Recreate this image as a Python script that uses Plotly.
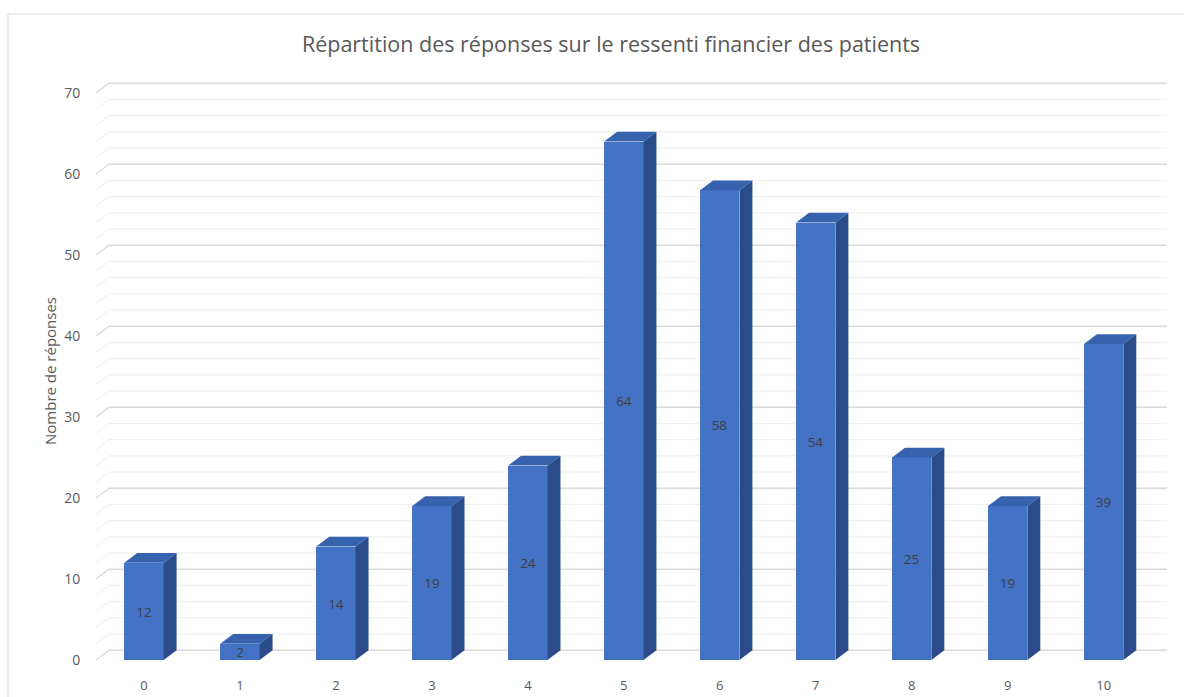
import plotly.graph_objects as go

categories = ["0", "1", "2", "3", "4", "5", "6", "7", "8", "9", "10"]
responses = [12, 2, 14, 19, 24, 64, 58, 54, 25, 19, 39]
y_ticks = [0, 10, 20, 30, 40, 50, 60, 70]
title_text = "Répartition des réponses sur le ressenti financier des patients"
y_title = "Nombre de réponses"

FRONT = "#4472c4"
TOP = "#3762ae"
SIDE = "#2b4c8a"
TEXT = "#595959"
FONT = "Open Sans"

W, H = 1184, 697
L, R, T, B = 96, 17, 80, 35
bar_w = 0.41
dx = 0.135   # depth offset in x (category units)
dy = 1.2     # depth offset in y (value units)
x_range = [-0.5, 10.66]
y_range = [-0.25, 71.6]

xs = list(range(len(categories)))

fig = go.Figure()
fig.add_trace(go.Bar(
    x=xs, y=responses, width=bar_w,
    marker=dict(color=FRONT, line=dict(width=0)),
    text=[str(v) for v in responses], textposition="inside",
    insidetextanchor="middle", textangle=0, constraintext="none",
    textfont=dict(family=FONT, size=13.5, color="#404040"),
    hoverinfo="skip", showlegend=False,
))

shapes = []
# gridlines (back wall with floor diagonal)
for v in range(0, 71, 2):
    major = v % 10 == 0
    col = "#d9d9d9" if major else "#eeeeee"
    shapes.append(dict(type="path", xref="x", yref="y", layer="below",
                       path=f"M {x_range[0]},{v} L {x_range[0]+dx},{v+dy} L {x_range[1]},{v+dy}",
                       line=dict(color=col, width=1.3 if major else 1)))

# 3D top and side faces
for x, v in zip(xs, responses):
    x0, x1 = x - bar_w / 2, x + bar_w / 2
    shapes.append(dict(type="path", xref="x", yref="y", layer="above",
                       path=f"M {x0},{v} L {x1},{v} L {x1+dx},{v+dy} L {x0+dx},{v+dy} Z",
                       fillcolor=TOP, line=dict(width=0)))
    shapes.append(dict(type="path", xref="x", yref="y", layer="above",
                       path=f"M {x1},0 L {x1+dx},{dy} L {x1+dx},{v+dy} L {x1},{v} Z",
                       fillcolor=SIDE, line=dict(width=0)))

# chart border
pw, ph = W - L - R, H - T - B
shapes.append(dict(type="rect", xref="paper", yref="paper", layer="below",
                   x0=(8 - L) / pw, x1=(W + 5 - L) / pw,
                   y0=-0.2, y1=(H - B - 14) / ph,
                   line=dict(color="#d9d9d9", width=1), fillcolor="rgba(0,0,0,0)"))

fig.update_layout(
    width=W, height=H,
    margin=dict(l=L, r=R, t=T, b=B, autoexpand=False),
    paper_bgcolor="white", plot_bgcolor="white",
    shapes=shapes,
    title=dict(text=title_text, x=(611 - L) / pw, xref="paper", xanchor="center",
               y=1 - 44 / H, yanchor="middle",
               font=dict(family=FONT, size=21.5, color=TEXT)),
    xaxis=dict(range=x_range, tickmode="array", tickvals=xs, ticktext=categories,
               showgrid=False, zeroline=False, showline=False, automargin=False,
               ticks="outside", ticklen=11, tickcolor="rgba(0,0,0,0)",
               tickfont=dict(family=FONT, size=13, color=TEXT)),
    yaxis=dict(range=y_range, tickmode="array", tickvals=y_ticks,
               showgrid=False, zeroline=False, showline=False, automargin=False,
               ticks="outside", ticklen=12, tickcolor="rgba(0,0,0,0)",
               tickfont=dict(family=FONT, size=14, color=TEXT),
               title=dict(text=y_title, font=dict(family=FONT, size=15, color=TEXT), standoff=3)),
    bargap=0,
)

fig.write_html("out.html", config={"displayModeBar": False},
               post_script="document.body.style.margin='0';document.body.style.overflow='hidden';")
